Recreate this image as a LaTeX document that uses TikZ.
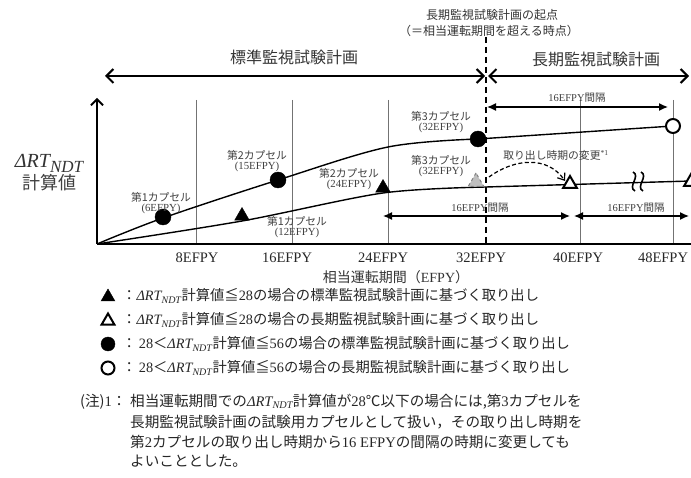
\documentclass[tikz,border=0pt]{standalone}
\usepackage{fontspec}
\setmainfont{Liberation Serif}
\newfontfamily\jp{Noto Sans CJK JP}
\usetikzlibrary{arrows.meta,shapes.geometric}
\newcommand{\drt}{{\itshape ΔRT\textsubscript{NDT}}}
\newcommand{\myfs}[1]{\fontsize{#1}{#1}\selectfont}
\begin{document}
\begin{tikzpicture}[x=1pt,y=-1pt,
  grid/.style={draw=black!55,line width=0.8pt},
  axis/.style={draw=black,line width=1.8pt},
  curve/.style={draw=black,line width=1.4pt},
  hdrarrow/.style={line width=2pt,{Straight Barb[length=7pt,width=14pt]}-{Straight Barb[length=7pt,width=14pt]}},
  intarrow/.style={line width=1.3pt,{Latex[length=9pt,width=8pt]}-{Latex[length=9pt,width=8pt]}},
  hdr/.style={font=\jp\myfs{16}, text=black!80, inner sep=0pt},
  toplbl/.style={font=\jp\myfs{12}, text=black!80, inner sep=0pt},
  capl/.style={font=\myfs{10.8}, text=black!75, align=center, inner sep=0pt},
  intlbl/.style={font=\myfs{10.5}, text=black!75, inner sep=0pt},
  xlbl/.style={font=\myfs{14.5}, text=black!85, inner sep=0pt},
  legtext/.style={font=\myfs{14.3}, text=black!85, anchor=west, inner sep=0pt},
  fcirc/.style={circle, fill=black, draw=black, minimum size=16pt, inner sep=0pt},
  ocirc/.style={circle, fill=white, draw=black, line width=2pt, minimum size=14pt, inner sep=0pt},
  ftri/.style={regular polygon, regular polygon sides=3, fill=black, draw=black, minimum size=17pt, inner sep=0pt},
  otri/.style={regular polygon, regular polygon sides=3, fill=white, draw=black, line width=2pt, minimum size=16pt, inner sep=0pt},
  gtri/.style={regular polygon, regular polygon sides=3, fill=black!25, draw=black!50, dashed, line width=1pt, minimum size=18pt, inner sep=0pt}
]
\useasboundingbox (0,0) rectangle (691,478);
\clip (0,0) rectangle (691,478);

% header
\node[hdr] (std) at (294,57) {標準監視試験計画};
\node[hdr] (lng) at (596,59) {長期監視試験計画};
\coordinate (hL) at (105,76);
\coordinate (hM1) at (485,76);
\coordinate (hM2) at (488,76);
\coordinate (hR) at (689,76);
\draw[hdrarrow] (hL) -- (hM1);
\draw[hdrarrow] (hM2) -- (hR);

\node[toplbl] (org1) at (492,15) {長期監視試験計画の起点};
\node[toplbl] (org2) at (489,31) {（＝相当運転期間を超える時点）};

% grid
\foreach \gx in {196,292,388,580,673} {\draw[grid] (\gx,100) -- (\gx,244);}
\coordinate (dTop) at (486,37);
\coordinate (dBot) at (486,246);
\draw[line width=1.5pt, dash pattern=on 6pt off 4pt] (dTop) -- (dBot);

% axes
\coordinate (O) at (97,244);
\coordinate (yEnd) at (97,98);
\coordinate (xEnd) at (691,244);
\draw[axis,-{Straight Barb[length=6pt,width=12pt]}] (O) -- (yEnd);
\draw[axis] (O) -- (xEnd);

% x labels
\node[xlbl] (x8) at (197,258) {8EFPY};
\node[xlbl] (x16) at (287,258) {16EFPY};
\node[xlbl] (x24) at (383,258) {24EFPY};
\node[xlbl] (x32) at (481,258) {32EFPY};
\node[xlbl] (x40) at (578,258) {40EFPY};
\node[xlbl] (x48) at (663,258) {48EFPY};
\node[font=\myfs{14}, text=black!80, inner sep=0pt] (xt) at (396,277) {{\jp 相当運転期間（}EFPY{\jp ）}};

% y label
\node[text=black!80, inner sep=0pt] (yl1) at (49,163) {{\myfs{20}\itshape ΔRT}{\myfs{17}\itshape\raisebox{-5pt}{NDT}}};
\node[font=\jp\myfs{18}, text=black!75, inner sep=0pt] (yl2) at (49,183) {計算値};

% curves
\draw[curve] plot[smooth, tension=0.55] coordinates {(97,244) (163,218) (278,180) (388,147) (478,139)} -- (673,126);
\draw[curve] plot[smooth, tension=0.5] coordinates {(97,244) (242,221) (383,193) (486,187)} -- (691,181);

% squiggle (break mark)
\draw[line width=1.6pt] (633,172) .. controls (641,176) and (627,187) .. (635,191);
\draw[line width=1.6pt] (641,172) .. controls (649,176) and (635,187) .. (643,191);

% markers
\node[fcirc] (c6) at (163,217) {};
\node[fcirc] (c15) at (278,180) {};
\node[fcirc] (c32) at (478,139) {};
\node[ocirc] (c48) at (673,126) {};
\node[ftri] (t12) at (242,216) {};
\node[ftri] (t24) at (383,188) {};
\node[gtri] (t32) at (476,182) {};
\node[otri] (t40) at (570,184) {};
\node[otri] (t48) at (691,182) {};

% capsule labels
\node[capl] (l6) at (161,203) {{\jp 第1カプセル}\\[-1pt](6EFPY)};
\node[capl] (l15) at (257,161) {{\jp 第2カプセル}\\[-1pt](15EFPY)};
\node[capl] (l12) at (297,227) {{\jp 第1カプセル}\\[-1pt](12EFPY)};
\node[capl] (l24) at (349,179) {{\jp 第2カプセル}\\[-1pt](24EFPY)};
\node[capl] (l32a) at (441,122) {{\jp 第3カプセル}\\[-1pt](32EFPY)};
\node[capl] (l32b) at (441,166) {{\jp 第3カプセル}\\[-1pt](32EFPY)};

% change arrow
\node[font=\jp\myfs{10.8}, text=black!75, inner sep=0pt] (chg) at (556,155) {取り出し時期の変更\textsuperscript{\rmfamily *1}};
\coordinate (chS) at (489,177);
\coordinate (chE) at (565,181);
\draw[line width=1.2pt, dash pattern=on 4pt off 2.5pt, -{Straight Barb[length=6pt,width=9pt]}] (chS) .. controls (515,158) and (548,156) .. (chE);

% interval arrows
\node[intlbl] (i1) at (577,98) {16EFPY{\jp 間隔}};
\coordinate (a1L) at (487,107); \coordinate (a1R) at (668,107);
\draw[intarrow] (a1L) -- (a1R);
\node[intlbl] (i2) at (480,208) {16EFPY{\jp 間隔}};
\coordinate (a2L) at (383,216); \coordinate (a2R) at (570,216);
\draw[intarrow] (a2L) -- (a2R);
\node[intlbl] (i3) at (636,208) {16EFPY{\jp 間隔}};
\coordinate (a3L) at (574,216); \coordinate (a3R) at (689,216);
\draw[intarrow] (a3L) -- (a3R);

% legend
\node[ftri, minimum size=16pt] (s1) at (108,297) {};
\node[otri, minimum size=15pt] (s2) at (108,321) {};
\node[fcirc, minimum size=14pt] (s3) at (108,344) {};
\node[ocirc, minimum size=13pt] (s4) at (108,368) {};
\node[legtext] (g1) at (122,296) {{\jp ：}\drt{\jp 計算値≦}28{\jp の場合の標準監視試験計画に基づく取り出し}};
\node[legtext] (g2) at (122,320) {{\jp ：}\drt{\jp 計算値≦}28{\jp の場合の長期監視試験計画に基づく取り出し}};
\node[legtext] (g3) at (122,344) {{\jp ：}\,28{\jp ＜}\drt{\jp 計算値≦}56{\jp の場合の標準監視試験計画に基づく取り出し}};
\node[legtext] (g4) at (122,368) {{\jp ：}\,28{\jp ＜}\drt{\jp 計算値≦}56{\jp の場合の長期監視試験計画に基づく取り出し}};

% note
\node[font=\myfs{14.6}, text=black!85, anchor=west, inner sep=0pt] (n0) at (80,402) {{\jp (注)}1{\jp ：}};
\node[font=\myfs{14.6}, text=black!85, anchor=north west, align=left, inner sep=0pt] (n1) at (130,394)
{{\jp 相当運転期間での}\drt{\jp 計算値が}28{\jp ℃以下の場合には,第}3{\jp カプセルを}\\[5pt]
{\jp 長期監視試験計画の試験用カプセルとして扱い，その取り出し時期を}\\[5pt]
{\jp 第}2{\jp カプセルの取り出し時期から}16 EFPY{\jp の間隔の時期に変更しても}\\[5pt]
{\jp よいこととした。}};
\end{tikzpicture}
\end{document}
